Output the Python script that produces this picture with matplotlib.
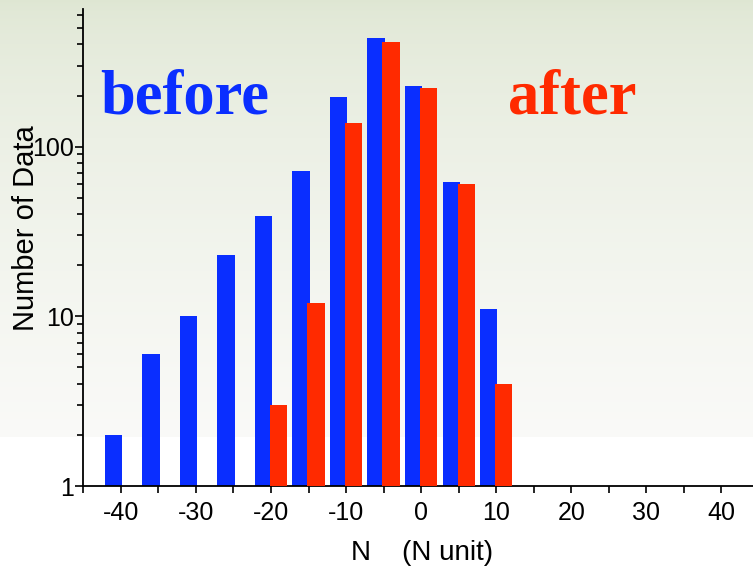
import numpy as np
import matplotlib.pyplot as plt
from matplotlib.ticker import MultipleLocator, LogLocator, NullFormatter, FixedFormatter, FixedLocator

plt.rcParams['axes.unicode_minus'] = False

# histogram bins (N units) and counts
bin_centers = [-40, -35, -30, -25, -20, -15, -10, -5, 0, 5, 10]
before_counts = [2, 6, 10, 23, 39, 72, 195, 436, 227, 62, 11]

after_centers = [-20, -15, -10, -5, 0, 5, 10]
after_counts = [3, 12, 138, 413, 222, 60, 4]

x_ticks = [-40, -30, -20, -10, 0, 10, 20, 30, 40]
y_ticks = [1, 10, 100]

blue = '#0A2EFF'
red = '#FF2A00'

W, H = 753, 571
fig = plt.figure(figsize=(W / 100, H / 100), dpi=100)

# soft vertical gradient behind everything, white strip at the bottom
bg = fig.add_axes([0, 0, 1, 1], zorder=-10)
rows = np.arange(H)
top = np.array([222, 230, 210]) / 255.0
low = np.array([250, 250, 248]) / 255.0
frac = np.clip(rows / 437.0, 0, 1)[:, None] ** 0.6
col = top * (1 - frac) + low * frac
col[rows >= 437] = 1.0
img = np.repeat(col[:, None, :], 2, axis=1)
bg.imshow(img, aspect='auto', extent=[0, 1, 0, 1], origin='upper')
bg.axis('off')

left = 83.3 / W
bottom = 1 - 486 / H
width = (759 - 83.3) / W
height = (486 - 8.7) / H
ax = fig.add_axes([left, bottom, width, height])
ax.patch.set_alpha(0)

ax.set_yscale('log')
bw = 2.3
ax.bar(np.array(bin_centers) - 1, before_counts, width=bw, color=blue,
       linewidth=0, zorder=2)
ax.bar(np.array(after_centers) + 1, after_counts, width=bw, color=red,
       linewidth=0, zorder=3)

ax.set_xlim(-45, 45)
ax.set_ylim(1, 650)

for s in ['top', 'right']:
    ax.spines[s].set_visible(False)
for s in ['left', 'bottom']:
    ax.spines[s].set_linewidth(1.3)
    ax.spines[s].set_color('black')

ax.xaxis.set_major_locator(FixedLocator(x_ticks))
ax.xaxis.set_minor_locator(MultipleLocator(5))
ax.yaxis.set_major_locator(FixedLocator(y_ticks))
ax.yaxis.set_major_formatter(FixedFormatter([str(v) for v in y_ticks]))
ax.yaxis.set_minor_locator(LogLocator(base=10, subs=np.arange(2, 10)))
ax.yaxis.set_minor_formatter(NullFormatter())

ax.tick_params(axis='x', which='both', direction='out', length=5, width=1.2,
               labelsize=18, pad=6)
ax.tick_params(axis='y', which='major', direction='out', length=6, width=1.2,
               labelsize=18, pad=1)
ax.tick_params(axis='y', which='minor', direction='out', length=4, width=1.2)
for lab in ax.get_xticklabels() + ax.get_yticklabels():
    lab.set_family('Liberation Sans')

fig.text(422 / W, 1 - 560 / H, 'N    (N unit)', ha='center', va='baseline',
         fontsize=20, family='Liberation Sans')
fig.text(26 / W, 1 - 228 / H, 'Number of Data', rotation=90, ha='center',
         va='center', fontsize=21, family='Liberation Sans')

fig.text(100 / W, 1 - 113 / H, 'before', color=blue, fontsize=45,
         fontweight='bold', family='Liberation Serif', va='baseline')
fig.text(508 / W, 1 - 113 / H, 'after', color=red, fontsize=45,
         fontweight='bold', family='Liberation Serif', va='baseline')

fig.savefig('out.png', dpi=100)
